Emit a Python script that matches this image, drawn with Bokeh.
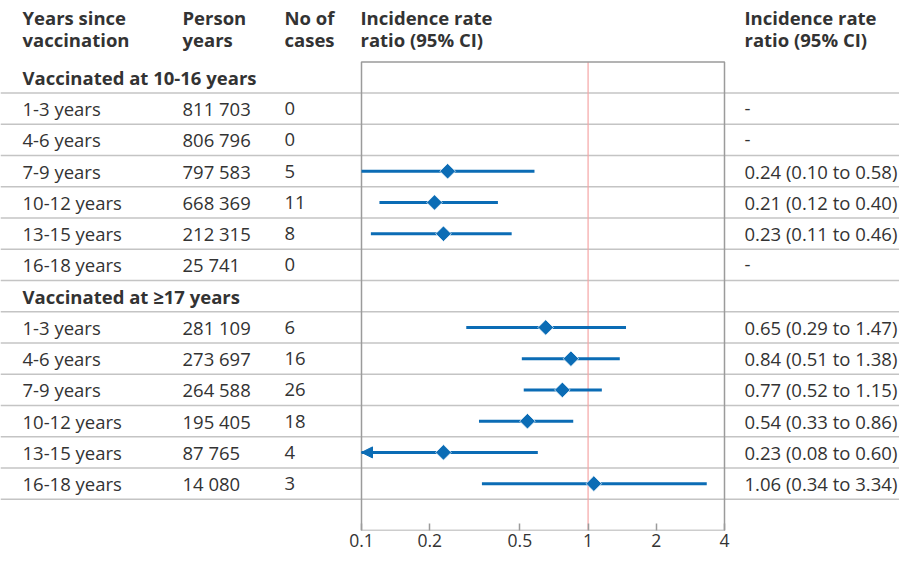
import math
import numpy as np
from bokeh.plotting import figure
from bokeh.models import (ColumnDataSource, Range1d, Span, FixedTicker,
                          NumeralTickFormatter, Arrow, NormalHead)
from bokeh.core.properties import value
from bokeh.embed import file_html
from bokeh.resources import INLINE

# ---------------- data ----------------
group_titles = ["Vaccinated at 10-16 years", "Vaccinated at \u226517 years"]
periods = ["1-3 years", "4-6 years", "7-9 years", "10-12 years", "13-15 years", "16-18 years"]

person_years_g1 = ["811 703", "806 796", "797 583", "668 369", "212 315", "25 741"]
cases_g1 = [0, 0, 5, 11, 8, 0]
irr_g1 = [None, None, 0.24, 0.21, 0.23, None]
lo_g1 = [None, None, 0.10, 0.12, 0.11, None]
hi_g1 = [None, None, 0.58, 0.40, 0.46, None]

person_years_g2 = ["281 109", "273 697", "264 588", "195 405", "87 765", "14 080"]
cases_g2 = [6, 16, 26, 18, 4, 3]
irr_g2 = [0.65, 0.84, 0.77, 0.54, 0.23, 1.06]
lo_g2 = [0.29, 0.51, 0.52, 0.33, 0.08, 0.34]
hi_g2 = [1.47, 1.38, 1.15, 0.86, 0.60, 3.34]

header_line1 = ["Years since", "Person", "No of", "Incidence rate", "Incidence rate"]
header_line2 = ["vaccination", "years", "cases", "ratio (95% CI)", "ratio (95% CI)"]

tick_values = [0.1, 0.2, 0.5, 1, 2, 4]
null_value = 1
AX_MIN, AX_MAX = 0.1, 4

# ---------------- layout (pixels, figure-local) ----------------
FONT = "Open Sans"
TEXT_C = "#333333"
BLUE = "#0b6cb5"
ROWLINE_C = "#c4c4c4"
BOX_C = "#9b9b9b"
PINK = "#f5a5a5"

W, H = 899, 554
BOX_L, BOX_R = 361, 724          # x of 0.1 and 4
ROW0 = 77                        # y of first row centre
B_BOTTOM = 24
N_ROWS = 15
frame_bottom = H - B_BOTTOM
R = (frame_bottom - ROW0) / (N_ROWS - 0.5)
y_top = (N_ROWS - 0.5) - frame_bottom / R

D = (BOX_R - BOX_L) / math.log10(AX_MAX / AX_MIN)   # px per decade
x_start = AX_MIN / 10 ** (BOX_L / D)
x_end = AX_MAX * 10 ** ((W - BOX_R) / D)

col_px = [22, 182, 284, 360, 744]
col_off = [c - BOX_L for c in col_px]

def py_to_row(py):
    return (py - ROW0) / R

# ---------------- assemble rows ----------------
rows_y, c1, c2, c3, c4 = [], [], [], [], []
bold_y, bold_t = [], []
ci = dict(y=[], irr=[], lo=[], hi=[])
trunc = dict(y=[], irr=[], lo=[])

def fmt(v):
    return f"{v:.2f}"

row = 0
for g, (py, cs, ir, lo, hi) in enumerate([
        (person_years_g1, cases_g1, irr_g1, lo_g1, hi_g1),
        (person_years_g2, cases_g2, irr_g2, lo_g2, hi_g2)]):
    bold_y.append(row)
    bold_t.append(group_titles[g])
    row += 1
    for i in range(len(periods)):
        rows_y.append(row)
        c1.append(periods[i])
        c2.append(py[i])
        c3.append(str(cs[i]))
        if ir[i] is None:
            c4.append("-")
        else:
            c4.append(f"{fmt(ir[i])} ({fmt(lo[i])} to {fmt(hi[i])})")
            ci["y"].append(row)
            ci["irr"].append(ir[i])
            ci["lo"].append(max(lo[i], AX_MIN))
            ci["hi"].append(min(hi[i], AX_MAX))
            if lo[i] < AX_MIN:
                trunc["y"].append(row)
                trunc["irr"].append(ir[i])
                trunc["lo"].append(AX_MIN)
        row += 1

# ---------------- figure ----------------
p = figure(width=W, height=H, x_axis_type="log",
           x_range=Range1d(x_start, x_end),
           y_range=Range1d(start=N_ROWS - 0.5, end=y_top),
           output_backend="svg", toolbar_location=None, y_axis_location=None,
           title=None, min_border_left=0, min_border_right=0, min_border_top=0,
           min_border_bottom=B_BOTTOM)
p.outline_line_color = None
p.grid.visible = False
p.background_fill_color = "white"
p.border_fill_color = "white"

# row separator lines
for k in range(N_ROWS - 1):
    p.add_layout(Span(location=k + 0.5, dimension="width", line_color=ROWLINE_C,
                      line_width=1.5, level="underlay"))

# reference line at 1
p.segment(x0=[null_value], x1=[null_value], y0=[-0.5], y1=[N_ROWS - 0.5],
          line_color=PINK, line_width=1.2)

# box
p.quad(left=[AX_MIN], right=[AX_MAX], top=[-0.5], bottom=[N_ROWS - 0.5],
       fill_color=None, line_color=BOX_C, line_width=1.5)

# CIs
ci_src = ColumnDataSource(ci)
p.segment(x0="lo", x1="hi", y0="y", y1="y", source=ci_src,
          line_color=BLUE, line_width=3)
p.add_layout(Arrow(end=NormalHead(size=11, fill_color=BLUE, line_color=BLUE, line_width=1),
                   x_start="irr", y_start="y", x_end="lo", y_end="y",
                   line_alpha=0, source=ColumnDataSource(trunc)))
p.scatter(x="irr", y="y", source=ci_src, marker="square", angle=np.pi / 4,
          size=11, fill_color=BLUE, line_color="white", line_width=0.7)

# table text
tsrc = ColumnDataSource(dict(y=rows_y, c1=c1, c2=c2, c3=c3, c4=c4))
common = dict(text_font=value(FONT), text_font_size="18.5px", text_color=TEXT_C,
              text_baseline="middle", text_align="left")
for col, off in zip(["c1", "c2", "c3", "c4"], [col_off[0], col_off[1], col_off[2], col_off[4]]):
    p.text(x=AX_MIN, y="y", text=col, x_offset=off, source=tsrc, **common)

p.text(x=AX_MIN, y="y", text="t", x_offset=col_off[0],
       source=ColumnDataSource(dict(y=bold_y, t=bold_t)),
       text_font_style="bold", **common)

# headers
hsrc = ColumnDataSource(dict(
    off=col_off,
    y1=[py_to_row(ROW0 - 60)] * len(col_off),
    y2=[py_to_row(ROW0 - 38)] * len(col_off),
    t1=header_line1, t2=header_line2))
hcommon = dict(text_font=value(FONT), text_font_size="18.5px", text_color=TEXT_C,
               text_baseline="middle", text_align="left", text_font_style="bold")
p.text(x=AX_MIN, y="y1", text="t1", x_offset="off", source=hsrc, **hcommon)
p.text(x=AX_MIN, y="y2", text="t2", x_offset="off", source=hsrc, **hcommon)

# axis
ax = p.xaxis[0]
ax.ticker = FixedTicker(ticks=tick_values)
ax.formatter = NumeralTickFormatter(format="0.[0]")
ax.bounds = (AX_MIN, AX_MAX)
ax.axis_line_color = None
ax.major_tick_in = 7
ax.major_tick_out = 0
ax.major_tick_line_color = BOX_C
ax.major_tick_line_width = 1.5
ax.minor_tick_line_color = None
ax.major_label_standoff = 3
ax.major_label_text_font = FONT
ax.major_label_text_font_size = "17.5px"
ax.major_label_text_color = TEXT_C

open("out.html", "w").write(file_html(p, INLINE))
